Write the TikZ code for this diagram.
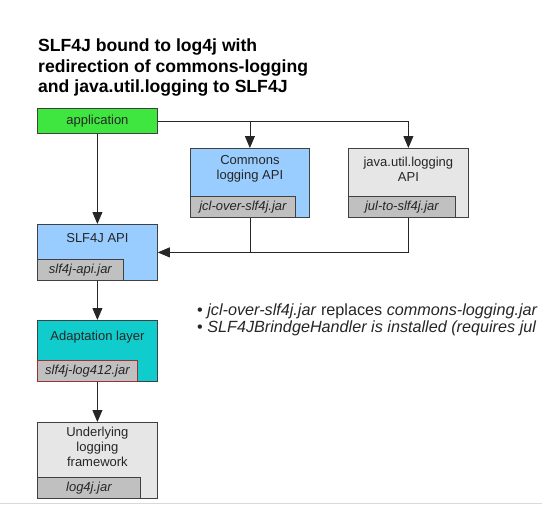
\documentclass[tikz,border=0pt]{standalone}
\usepackage{fontspec}
\setmainfont{Liberation Sans}
\usetikzlibrary{arrows.meta, positioning, calc}
\definecolor{appgreen}{HTML}{40E640}
\definecolor{apiblue}{HTML}{99CCFF}
\definecolor{fwgray}{HTML}{E6E6E6}
\definecolor{jargray}{HTML}{C0C0C0}
\definecolor{adaptteal}{HTML}{10CCCC}
\definecolor{jarred}{HTML}{993333}
\tikzset{
  lay box/.style={
    rectangle, draw=black!75, line width=0.8pt,
    minimum width=120pt, inner sep=0pt, anchor=north west
  },
  lay text/.style={
    font=\fontsize{13}{15}\selectfont, text=black!85,
    align=center, inner sep=0pt
  },
  jar box/.style={
    rectangle, draw=black!75, line width=0.8pt, fill=jargray,
    minimum height=21pt, inner sep=0pt, anchor=south west,
    font=\fontsize{13}{15}\selectfont\itshape, text=black!85
  },
  lay arrow/.style={
    -{Triangle[width=10pt,length=12pt]}, line width=0.8pt, draw=black!85
  },
  lay line/.style={
    line width=0.8pt, draw=black!85
  }
}

\begin{document}
\begin{tikzpicture}[x=1pt, y=-1pt]
\useasboundingbox (0,0) rectangle (542,530);

% ====== title ======
\node[anchor=north west, inner sep=0pt, align=left,
  font=\fontsize{17.6}{20.5}\selectfont\bfseries] (title) at (38,39)
  {SLF4J bound to log4j with\\redirection of commons-logging\\and java.util.logging to SLF4J};

% ====== application ======
\node[lay box, fill=appgreen, minimum height=25pt] (app) at (37,108) {};
\node[lay text] (apptxt) at (app.center) {application};

% ====== Commons logging API ======
\node[lay box, fill=apiblue, minimum width=119pt, minimum height=69pt] (jcl) at (190,148) {};
\node[jar box, minimum width=105pt] (jcljar) at (jcl.south west) {jcl-over-slf4j.jar};
\node[lay text, yshift=3pt] (jcltxt) at ($(jcl.north)!0.5!(jcl.north |- jcljar.north)$) {Commons\\logging API};

% ====== java.util.logging API ======
\node[lay box, fill=fwgray, minimum height=69pt] (jul) at (348,148) {};
\node[jar box, minimum width=107pt] (juljar) at (jul.south west) {jul-to-slf4j.jar};
\node[lay text, yshift=3pt] (jultxt) at ($(jul.north)!0.5!(jul.north |- juljar.north)$) {java.util.logging\\API};

% ====== SLF4J API ======
\node[lay box, fill=apiblue, minimum height=56pt] (slfapi) at (37,224) {};
\node[jar box, minimum width=86pt] (slfjar) at (slfapi.south west) {slf4j-api.jar};
\node[lay text, yshift=3pt] (slftxt) at ($(slfapi.north)!0.5!(slfapi.north |- slfjar.north)$) {SLF4J API};

% ====== Adaptation layer ======
\node[lay box, fill=adaptteal, minimum height=61pt] (adapt) at (37,320) {};
\node[jar box, draw=jarred, minimum width=100pt] (adaptjar) at (adapt.south west) {slf4j-log412.jar};
\node[lay text, yshift=3pt] (adapttxt) at ($(adapt.north)!0.5!(adapt.north |- adaptjar.north)$) {Adaptation layer};

% ====== Underlying logging framework ======
\node[lay box, fill=fwgray, minimum height=76pt] (under) at (37,422) {};
\node[jar box, minimum width=103pt] (underjar) at (under.south west) {log4j.jar};
\node[lay text, yshift=3pt] (undertxt) at ($(under.north)!0.5!(under.north |- underjar.north)$) {Underlying\\logging\\framework};

% ====== connectors ======
\draw[lay arrow] (app.east) -| (jul.north);
\draw[lay arrow] (jcl.north |- app.east) -- (jcl.north);
\draw[lay arrow] (app.south) -- (slfapi.north);
\draw[lay arrow] (jul.south) |- (slfapi.east);
\draw[lay line] (jcl.south) -- (jcl.south |- slfapi.east);
\draw[lay arrow] (slfapi.south) -- (adapt.north);
\draw[lay arrow] (adapt.south) -- (under.north);

% ====== notes ======
\node[anchor=north west, inner sep=0pt, align=left,
  font=\fontsize{16.2}{17}\selectfont, text=black!85] (notes) at (197,304)
  {• \textit{jcl-over-slf4j.jar} replaces \textit{commons-logging.jar}\\
   • \textit{SLF4JBrindgeHandler is installed (requires jul}};

\draw[black!15] (0,503) -- (542,503);

\end{tikzpicture}
\end{document}
